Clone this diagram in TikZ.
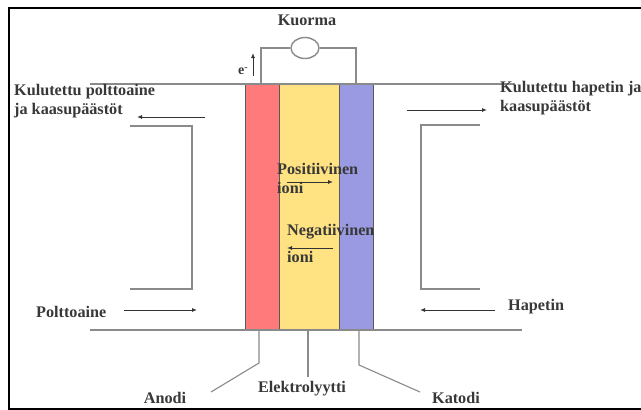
\documentclass[tikz,border=0pt]{standalone}
\usepackage{fontspec}
\setmainfont{Liberation Serif}
\usetikzlibrary{arrows.meta,shapes.geometric}
\definecolor{anodered}{HTML}{FF7A7A}
\definecolor{elyellow}{HTML}{FFE282}
\definecolor{katblue}{HTML}{9A9AE2}
\definecolor{lineg}{HTML}{8A8A8A}
\definecolor{txtg}{HTML}{383838}
\begin{document}
\begin{tikzpicture}[x=1pt,y=-1pt,
  lbl/.style={font=\fontsize{16.2}{19}\selectfont\bfseries, text=txtg, inner sep=0pt, align=left},
  gline/.style={draw=lineg, line width=1.4pt},
  flow/.style={draw=black!80, line width=0.9pt, -{Latex[length=5pt,width=4pt]}},
  layer/.style={draw=gray!70!black, line width=0.8pt}]
\useasboundingbox (0,0) rectangle (641,410);
% frame
\draw[line width=2pt, black] (641,8) -- (9,8) -- (9,409) -- (641,409);
% layers
\path[layer, fill=anodered] (245,84) rectangle (279,330);
\path[layer, fill=elyellow] (279,84) rectangle (339,330);
\path[layer, fill=katblue] (339,84) rectangle (373,330);
\coordinate (anb) at (259,330);
\coordinate (elb) at (308,330);
\coordinate (kab) at (359,330);
% top & bottom lines
\draw[gline] (90,84) -- (515,84);
\draw[gline] (90,330) -- (522,330);
% circuit
\node[ellipse, draw=lineg, line width=1.4pt, fill=white, minimum width=28pt, minimum height=21pt, inner sep=0pt] (load) at (305,48) {};
\node[lbl] (kuorma) at (307,20) {Kuorma};
\coordinate (cl) at (261,84);
\coordinate (cr) at (356,84);
\draw[gline] (cl) |- (load.west);
\draw[gline] (cr) |- (load.east);
\coordinate (e1) at (253,76);
\coordinate (e2) at (253,53);
\draw[flow] (e1) -- (e2);
\node[lbl, font=\fontsize{14}{16}\selectfont\bfseries] (elec) at (243,71) {e\raisebox{4pt}{\fontsize{10}{10}\selectfont -}};
% left side
\node[lbl, anchor=west] (kulpolt) at (14,101) {Kulutettu polttoaine\\ja kaasupäästöt};
\coordinate (la1) at (205,117);
\coordinate (la2) at (137,117);
\draw[flow] (la1) -- (la2);
\draw[gline] (130,126) -- (192,126) -- (192,289) -- (130,289);
\node[lbl, anchor=west] (polt) at (36,312) {Polttoaine};
\coordinate (lb1) at (124,310);
\coordinate (lb2) at (197,310);
\draw[flow] (lb1) -- (lb2);
% right side
\node[lbl, anchor=west] (kulhap) at (500,98) {Kulutettu hapetin ja\\kaasupäästöt};
\coordinate (ra1) at (407,110);
\coordinate (ra2) at (487,110);
\draw[flow] (ra1) -- (ra2);
\draw[gline] (480,125) -- (421,125) -- (421,289) -- (480,289);
\node[lbl, anchor=west] (hap) at (508,307) {Hapetin};
\coordinate (rb1) at (495,310);
\coordinate (rb2) at (420,310);
\draw[flow] (rb1) -- (rb2);
% ions
\node[lbl, anchor=north west] (pos) at (277,163) {Positiivinen\\ioni};
\coordinate (p1) at (287,182);
\coordinate (p2) at (333,182);
\draw[flow] (p1) -- (p2);
\node[lbl, anchor=north west] (neg) at (287,224) {Negatiivinen};
\node[lbl, anchor=north west] (negi) at (287,251) {ioni};
\coordinate (n1) at (333,248);
\coordinate (n2) at (287,248);
\draw[flow] (n1) -- (n2);
% bottom labels
\node[lbl] (anodi) at (165,398) {Anodi};
\node[lbl] (elektro) at (302,389) {Elektrolyytti};
\node[lbl] (katodi) at (456,398) {Katodi};
\draw[gline, line width=1.1pt] (anb) -- (259,363) -- (211,392);
\draw[gline, line width=1.1pt] (elb) -- (308,377);
\draw[gline, line width=1.1pt] (kab) -- (359,365) -- (420,392);
\end{tikzpicture}
\end{document}
